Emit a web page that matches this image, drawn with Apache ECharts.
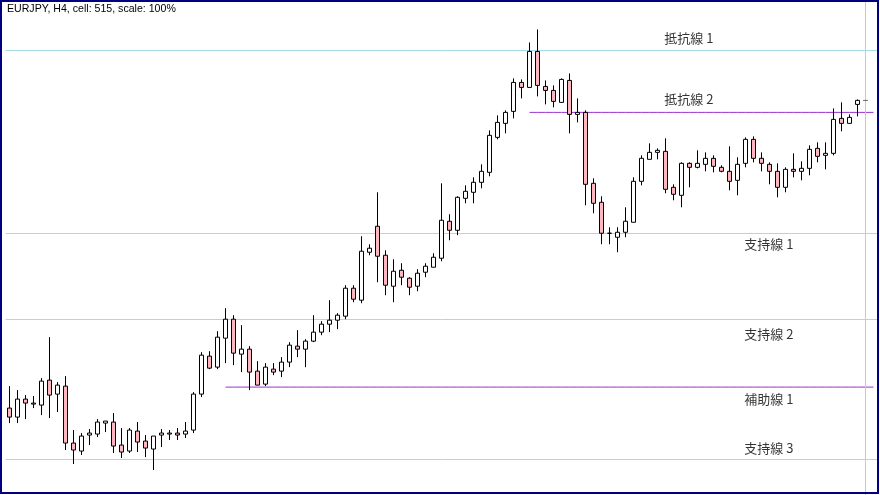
<!DOCTYPE html>
<html>
<head>
<meta charset="utf-8">
<script src="https://cdn.jsdelivr.net/npm/echarts@6/dist/echarts.min.js"></script>
<style>
html,body{margin:0;padding:0;background:#fff;}
#chart{width:880px;height:495px;}
</style>
</head>
<body>
<div id="chart"></div>
<script>
// ---- data (price in points) ----
const chartTitle = 'EURJPY, H4, cell: 515, scale: 100%';
// each candle: [open, close, low, high]
const candles = [
  [92,83,77,114],[83,101,77,110],[101,97,81,105],[97,96,92,104],[95,119,85,122],
  [120,105,82,163],[106,115,88,118],[114,57,50,124],[57,50,36,70],[49,64,45,67],
  [65,67,55,71],[66,78,63,81],[77,79,68,79],[78,54,47,87],[55,48,42,72],
  [49,70,47,72],[69,58,48,78],[59,52,43,65],[51,64,30,64],[65,67,53,71],
  [66,67,60,70],[67,65,60,72],[66,69,62,78],[70,106,67,108],[106,145,103,148],
  [144,132,131,149],[133,163,131,169],[162,181,137,192],[181,147,135,185],[146,151,128,175],
  [151,128,110,154],[129,115,115,139],[116,133,114,137],[131,128,125,137],[129,138,123,143],
  [138,155,133,158],[154,151,143,170],[151,159,133,161],[159,168,158,185],[168,176,165,179],
  [176,180,168,200],[180,185,171,187],[184,212,181,215],[212,201,198,215],[200,249,197,264],
  [248,252,245,256],[274,244,218,308],[245,215,205,250],[214,229,198,241],[230,223,215,237],
  [222,213,205,223],[214,227,209,231],[228,234,223,237],[233,243,233,247],[242,280,239,317],
  [279,270,260,286],[270,303,265,304],[302,309,297,315],[308,318,297,323],[318,329,312,336],
  [328,365,324,370],[363,378,361,385],[377,388,367,390],[389,418,382,422],[418,413,402,421],
  [413,449,413,458],[449,415,404,471],[414,410,396,420],[410,399,393,415],[398,421,398,422],
  [420,386,367,427],[386,388,378,402],[388,316,295,390],[317,297,287,322],[298,267,256,304],
  [267,267,256,273],[263,268,248,273],[268,279,263,293],[278,319,278,323],[319,342,315,345],
  [341,348,341,357],[348,350,341,352],[349,311,307,362],[313,306,300,316],[305,337,293,338],
  [337,333,313,338],[333,337,332,350],[336,342,329,348],[342,334,328,345],[333,329,328,335],
  [329,319,310,354],[320,336,305,343],[337,361,333,363],[361,342,338,364],[342,337,329,348],
  [336,329,316,338],[329,313,303,337],[313,331,308,333],[331,329,323,347],[329,332,320,339],
  [332,351,325,355],[352,344,338,358],[345,347,331,358],[347,381,345,392],[382,377,369,398],
  [377,383,377,386],[396,400,384,401]
];
const extraSlots = 2;             // empty bars to the right of the last candle
// horizontal line objects
const lineNames   = ['抵抗線 1','抵抗線 2','支持線 1','支持線 2','補助線 1','支持線 3'];
const lineLevels  = [450, 388, 267, 181, 113, 41];
const lineStartBar = [null, 65, null, null, 27, null];   // null = whole chart
// text objects (anchor bar index, price)
const labelBars   = [88, 88, 98, 98, 98, 98];
const labelLevels = [462, 401, 256.5, 166.5, 101.5, 52];
const cursorBar = 107;            // vertical line position
const priceMin = 5, priceMax = 500;

// ---- build ----
const nBars = candles.length + extraSlots;
const cats = [];
for (let i = 0; i < nBars; i++) cats.push(String(i));

const lineColorFor = n => (n.indexOf('抵抗線 2') === 0 || n.indexOf('補助線') === 0) ? '#9932cc' : '#a6dbe6';

const fullLines = [];
const series = [];
lineNames.forEach((n, k) => {
  if (lineStartBar[k] === null) {
    fullLines.push({yAxis: lineLevels[k], lineStyle: {color: lineColorFor(n), width: 1, type: 'solid'}});
  } else {
    const d = [];
    for (let i = 0; i < nBars; i++) d.push(i >= lineStartBar[k] ? lineLevels[k] : null);
    series.push({
      type: 'line', data: d, symbol: 'none', silent: true, z: 1,
      lineStyle: {color: lineColorFor(n), width: 1}, connectNulls: false
    });
  }
});

series.unshift({
  type: 'candlestick',
  data: candles,
  barWidth: 5,
  z: 5,
  silent: true,
  itemStyle: {
    color: '#ffffff', color0: '#ffb6c1',
    borderColor: '#000000', borderColor0: '#000000', borderColorDoji: '#000000',
    borderWidth: 1
  },
  markLine: {
    silent: true, symbol: 'none', animation: false,
    label: {show: false},
    data: fullLines.concat([{xAxis: cursorBar, lineStyle: {color: '#c8c8c8', width: 1, type: 'solid'}}])
  }
});

series.push({
  type: 'scatter', silent: true, z: 6,
  symbolSize: 0,
  data: lineNames.map((n, k) => [labelBars[k], labelLevels[k], n]),
  label: {
    show: true, position: 'left', distance: 0,
    formatter: p => p.data[2],
    color: '#000', fontSize: 13, fontFamily: 'Noto Sans CJK JP',
    verticalAlign: 'middle'
  }
});

// last price tick
series.push({
  type: 'scatter', silent: true, z: 6,
  symbol: 'rect', symbolSize: [5, 1],
  itemStyle: {color: '#444'},
  data: [[cursorBar, candles[candles.length - 1][1]]]
});

const chart = echarts.init(document.getElementById('chart'), null, {renderer: 'canvas'});
chart.setOption({
  animation: false,
  backgroundColor: '#ffffff',
  title: {
    text: chartTitle, left: 7, top: 4, padding: 0,
    textStyle: {fontSize: 10.6, fontWeight: 'normal', color: '#000', fontFamily: 'Liberation Sans'}
  },
  grid: {left: 5.5, width: 872, top: 0.5, height: 495},
  xAxis: {
    type: 'category', data: cats, boundaryGap: true,
    axisLine: {show: false}, axisTick: {show: false}, axisLabel: {show: false}, splitLine: {show: false}
  },
  yAxis: {
    type: 'value', min: priceMin, max: priceMax, scale: true,
    axisLine: {show: false}, axisTick: {show: false}, axisLabel: {show: false}, splitLine: {show: false}
  },
  graphic: [{
    type: 'rect', silent: true, z: 100,
    shape: {x: 1, y: 1, width: 877, height: 492},
    style: {fill: 'none', stroke: '#000080', lineWidth: 2}
  }],
  series: series
});
</script>
</body>
</html>
